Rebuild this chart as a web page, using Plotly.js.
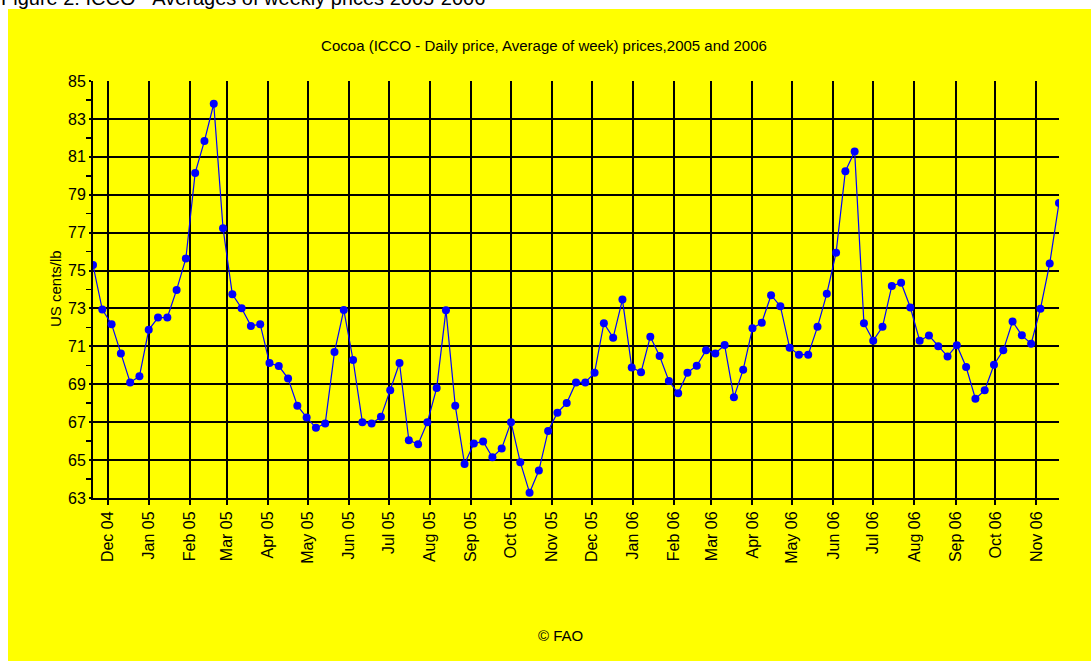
<!DOCTYPE html>
<html>
<head>
<meta charset="utf-8">
<script src="https://cdn.plot.ly/plotly-3.0.1.min.js"></script>
<style>html,body{margin:0;padding:0;background:#fff;}#chart{width:1091px;height:661px;}</style>
</head>
<body>
<div id="chart"></div>
<script>
// Week dates (weekly averages)
const weeks = [
"2004-11-20","2004-11-27","2004-12-04","2004-12-11","2004-12-18","2004-12-25",
"2005-01-01","2005-01-08","2005-01-15","2005-01-22","2005-01-29","2005-02-05","2005-02-12","2005-02-19","2005-02-26",
"2005-03-05","2005-03-12","2005-03-19","2005-03-26","2005-04-02","2005-04-09","2005-04-16","2005-04-23","2005-04-30",
"2005-05-07","2005-05-14","2005-05-21","2005-05-28","2005-06-04","2005-06-11","2005-06-18","2005-06-25",
"2005-07-02","2005-07-09","2005-07-16","2005-07-23","2005-07-30","2005-08-06","2005-08-13","2005-08-20","2005-08-27",
"2005-09-03","2005-09-10","2005-09-17","2005-09-24","2005-10-01","2005-10-08","2005-10-15","2005-10-22","2005-10-29",
"2005-11-05","2005-11-12","2005-11-19","2005-11-26","2005-12-03","2005-12-10","2005-12-17","2005-12-24","2005-12-31",
"2006-01-07","2006-01-14","2006-01-21","2006-01-28","2006-02-04","2006-02-11","2006-02-18","2006-02-25",
"2006-03-04","2006-03-11","2006-03-18","2006-03-25","2006-04-01","2006-04-08","2006-04-15","2006-04-22","2006-04-29",
"2006-05-06","2006-05-13","2006-05-20","2006-05-27","2006-06-03","2006-06-10","2006-06-17","2006-06-24",
"2006-07-01","2006-07-08","2006-07-15","2006-07-22","2006-07-29","2006-08-05","2006-08-12","2006-08-19","2006-08-26",
"2006-09-02","2006-09-09","2006-09-16","2006-09-23","2006-09-30","2006-10-07","2006-10-14","2006-10-21","2006-10-28",
"2006-11-04","2006-11-11","2006-11-18"
];
// Cocoa price, US cents/lb
const prices = [
75.29,72.94,72.17,70.63,69.10,69.42,
71.87,72.52,72.52,73.98,75.64,80.15,81.84,83.80,77.23,
73.75,73.01,72.08,72.17,70.12,69.96,69.31,67.87,67.25,
66.70,66.93,70.70,72.92,70.28,67.00,66.93,67.28,
68.69,70.12,66.05,65.84,67.00,68.80,72.91,67.87,64.80,
65.87,65.98,65.15,65.61,67.00,64.89,63.28,64.45,66.54,
67.50,68.01,69.10,69.10,69.61,72.22,71.46,73.47,69.89,
69.63,71.51,70.49,69.17,68.52,69.61,69.98,70.79,
70.63,71.07,68.31,69.77,71.95,72.25,73.70,73.12,70.93,
70.56,70.56,72.03,73.77,75.94,80.24,81.28,72.22,
71.30,72.03,74.19,74.35,73.05,71.30,71.57,71.00,70.47,
71.06,69.91,68.24,68.68,70.03,70.79,72.31,71.58,71.14,
72.98,75.37,78.57
];
const yTicks = [63,65,67,69,71,73,75,77,79,81,83,85];

const W = 1091, H = 661;
const M = {l: 93, r: 32, t: 81, b: 163};
const PW = W - M.l - M.r, PH = H - M.t - M.b;
const xp = px => (px - M.l) / PW;
const yp = py => (H - M.b - py) / PH;
const FONT = "Liberation Sans, Arial, sans-serif";

const trace = {
  x: weeks, y: prices, type: 'scatter', mode: 'lines+markers',
  line: {color: '#0000ff', width: 1.2},
  marker: {color: '#0000ff', size: 8, symbol: 'circle'},
  hoverinfo: 'x+y', showlegend: false
};

const layout = {
  width: W, height: H,
  margin: M,
  paper_bgcolor: '#ffffff',
  plot_bgcolor: '#ffff00',
  font: {family: FONT, size: 16, color: '#000'},
  title: {text: 'Cocoa (ICCO - Daily price, Average of week) prices,2005 and 2006',
          font: {family: FONT, size: 15, color: '#000'},
          xref: 'container', yref: 'container', x: 544 / W, y: 1 - 46 / H,
          xanchor: 'center', yanchor: 'middle'},
  xaxis: {
    type: 'date', range: [weeks[0], weeks[weeks.length - 1]],
    tick0: '2004-12-01', dtick: 'M1', tickformat: '%b %y', tickangle: -90,
    ticks: 'outside', ticklen: 5, tickcolor: '#000', tickwidth: 2,
    showgrid: true, gridcolor: '#000', gridwidth: 2,
    showline: true, linecolor: '#000', linewidth: 2,
    zeroline: false, tickfont: {family: FONT, size: 16, color: '#000'},
    automargin: false
  },
  yaxis: {
    range: [63, 85], tickvals: yTicks, ticktext: yTicks.map(String),
    ticks: 'outside', ticklen: 2, tickcolor: '#000', tickwidth: 2,
    minor: {tick0: 64, dtick: 2, ticks: 'outside', ticklen: 5, tickcolor: '#000', tickwidth: 1.5, showgrid: false},
    showgrid: true, gridcolor: '#000', gridwidth: 2,
    showline: true, linecolor: '#000', linewidth: 2,
    zeroline: false, tickfont: {family: FONT, size: 16, color: '#000'},
    automargin: false
  },
  shapes: [
    {type: 'rect', xref: 'paper', yref: 'paper', layer: 'below',
     x0: xp(8), x1: xp(W + 5), y0: yp(H + 5), y1: yp(9),
     fillcolor: '#ffff00', line: {width: 0}}
  ],
  annotations: [
    {text: 'Figure 2: ICCO - Averages of weekly prices 2005-2006', xref: 'paper', yref: 'paper',
     x: xp(0), y: yp(10), xanchor: 'left', yanchor: 'bottom', showarrow: false, borderpad: 0,
     font: {family: FONT, size: 20, color: '#000'}},
    {text: 'US cents/lb', xref: 'paper', yref: 'paper', x: xp(55), y: yp(289),
     xanchor: 'center', yanchor: 'middle', textangle: -90, showarrow: false,
     font: {family: FONT, size: 15, color: '#000'}},
    {text: '© FAO', xref: 'paper', yref: 'paper', x: xp(560), y: yp(635),
     xanchor: 'center', yanchor: 'middle', showarrow: false,
     font: {family: FONT, size: 15, color: '#000'}}
  ]
};

Plotly.newPlot('chart', [trace], layout, {displayModeBar: false, staticPlot: true});
</script>
</body>
</html>
